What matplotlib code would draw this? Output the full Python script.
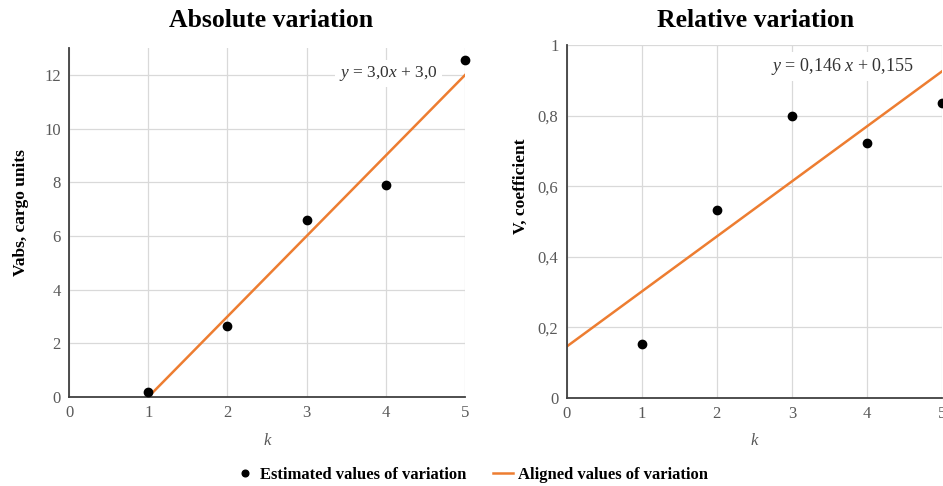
import matplotlib.pyplot as plt

plt.rcParams['font.family'] = ['Liberation Serif', 'DejaVu Serif']
plt.rcParams['mathtext.fontset'] = 'custom'
plt.rcParams['mathtext.rm'] = 'Liberation Serif'
plt.rcParams['mathtext.it'] = 'Liberation Serif:italic'

k = [1, 2, 3, 4, 5]
v_abs = [0.19, 2.65, 6.58, 7.89, 12.57]
v_rel = [0.154, 0.533, 0.80, 0.724, 0.837]

# trend line endpoints
abs_fit_x = [1, 5]
abs_fit_y = [0, 12]
rel_fit_x = [0, 5]
rel_fit_y = [0.146, 0.926]

abs_ticks = [0, 2, 4, 6, 8, 10, 12]
rel_ticks = [0, 0.2, 0.4, 0.6, 0.8, 1]
rel_tick_labels = ['0', '0,2', '0,4', '0,6', '0,8', '1']

orange = '#ED7D31'
grey = '#595959'


def style_axes(ax):
    for s in ['top', 'right']:
        ax.spines[s].set_visible(False)
    for s in ['left', 'bottom']:
        ax.spines[s].set_color('#404040')
        ax.spines[s].set_linewidth(1.3)
    ax.grid(True, color='#d9d9d9', linewidth=0.9)
    ax.set_axisbelow(True)
    ax.tick_params(length=0, labelsize=12, colors=grey, pad=6)
    ax.set_xlim(0, 5)
    ax.set_xticks([0, 1, 2, 3, 4, 5])
    ax.set_xlabel('k', style='italic', fontsize=12, color=grey, labelpad=8)


fig = plt.figure(figsize=(9.43, 4.86), dpi=100)
ax1 = fig.add_axes([0.0732, 0.183, 0.42, 0.718])
ax2 = fig.add_axes([0.601, 0.181, 0.398, 0.726])

style_axes(ax1)
ax1.set_ylim(0, 13)
ax1.set_yticks(abs_ticks)
ax1.plot(abs_fit_x, abs_fit_y, color=orange, lw=1.8, zorder=2)
ax1.plot(k, v_abs, 'o', color='black', ms=6, zorder=3, clip_on=False)
ax1.set_ylabel('Vabs, cargo units', fontsize=12.5, fontweight='bold')
ax1.yaxis.set_label_coords(-0.10, 0.53)
ax1.text(0.806, 0.928, '$y$ = 3,0$x$ + 3,0', transform=ax1.transAxes,
         ha='center', va='center', fontsize=12.5, color='#333333',
         bbox=dict(facecolor='white', edgecolor='none', pad=3))

style_axes(ax2)
ax2.set_ylim(0, 1)
ax2.set_yticks(rel_ticks)
ax2.set_yticklabels(rel_tick_labels)
line, = ax2.plot(rel_fit_x, rel_fit_y, color=orange, lw=1.8, zorder=2,
                 label='Aligned values of variation')
pts, = ax2.plot(k, v_rel, 'o', color='black', ms=6, zorder=3, clip_on=False,
                label='Estimated values of variation')
ax2.set_ylabel('V, coefficient', fontsize=12.5, fontweight='bold')
ax2.yaxis.set_label_coords(-0.10, 0.6)
ax2.text(0.733, 0.94, '$y$ = 0,146 $x$ + 0,155', transform=ax2.transAxes,
         ha='center', va='center', fontsize=13, color='#333333',
         bbox=dict(facecolor='white', edgecolor='none', pad=3))

fig.text(0.287, 0.958, 'Absolute variation', ha='center', va='center',
         fontsize=18.5, fontweight='bold')
fig.text(0.801, 0.958, 'Relative variation', ha='center', va='center',
         fontsize=18.5, fontweight='bold')

fig.legend(handles=[pts, line], loc='center', bbox_to_anchor=(0.5, 0.022),
           ncol=2, frameon=False, prop={'weight': 'bold', 'size': 12},
           handlelength=1.2, columnspacing=1.6, handletextpad=0.3, markerscale=0.8)

fig.savefig('out.png', dpi=100)
